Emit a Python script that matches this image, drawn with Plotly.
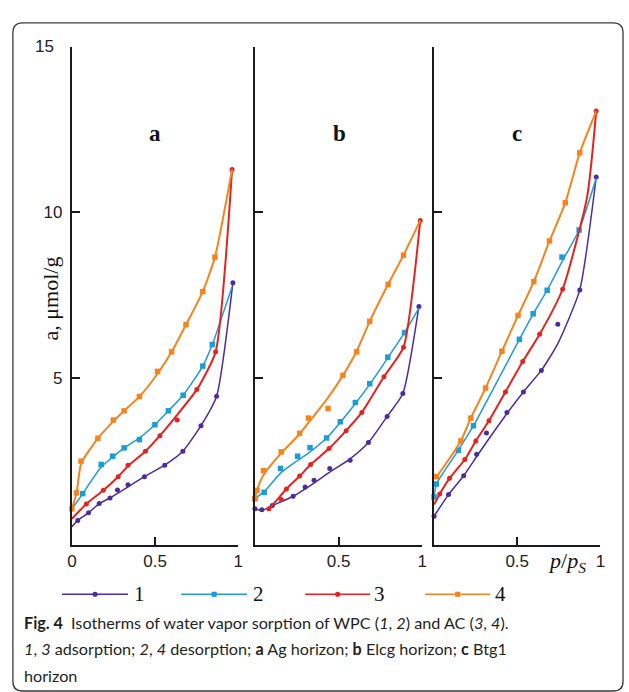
import plotly.graph_objects as go

W, H = 629, 692

# ---------------- data ----------------
# series 1: WPC adsorption, 2: WPC desorption, 3: AC adsorption, 4: AC desorption
SERIES_LABELS = ["1", "2", "3", "4"]
PANEL_LABELS = ["a", "b", "c"]
X_TICKS_A = [0, 0.5, 1]
X_TICKTEXT_A = ["0", "0.5", "1"]
X_TICKS_BC = [0.5, 1]
X_TICKTEXT_BC = ["0.5", "1"]
Y_TICKS = [5, 10, 15]
Y_TICKTEXT = ["5", "10", "15\u2002"]

# Panel a  (M = measured points, C = fitted curve)
A1_MX = [0.035, 0.10, 0.164, 0.229, 0.274, 0.337, 0.436, 0.558, 0.667, 0.776, 0.870, 0.968]
A1_MY = [0.69, 0.92, 1.20, 1.37, 1.61, 1.77, 2.01, 2.36, 2.78, 3.55, 4.44, 7.87]
A1_CX = [0.0, 0.035, 0.10, 0.164, 0.229, 0.436, 0.558, 0.667, 0.776, 0.870, 0.968]
A1_CY = [0.50, 0.69, 0.92, 1.20, 1.37, 2.01, 2.36, 2.78, 3.55, 4.44, 7.87]

A2_MX = [0.065, 0.176, 0.245, 0.314, 0.406, 0.499, 0.58, 0.669, 0.787, 0.844]
A2_MY = [1.50, 2.38, 2.63, 2.88, 3.13, 3.58, 4.00, 4.47, 5.35, 6.00]
A2_CX = [0.01, 0.065, 0.176, 0.245, 0.314, 0.406, 0.499, 0.58, 0.669, 0.787, 0.844, 0.963]
A2_CY = [1.10, 1.50, 2.30, 2.60, 2.88, 3.18, 3.58, 4.00, 4.47, 5.35, 6.00, 7.75]

A3_MX = [0.087, 0.189, 0.278, 0.337, 0.442, 0.529, 0.633, 0.751, 0.864, 0.963]
A3_MY = [1.19, 1.60, 2.01, 2.36, 2.78, 3.25, 3.72, 4.64, 5.78, 11.29]
A3_CX = [0.0, 0.087, 0.189, 0.278, 0.337, 0.442, 0.529, 0.633, 0.751, 0.864, 0.963]
A3_CY = [0.74, 1.19, 1.60, 2.01, 2.33, 2.78, 3.25, 3.88, 4.64, 5.78, 11.29]

A4_MX = [0.0, 0.028, 0.055, 0.156, 0.249, 0.314, 0.406, 0.515, 0.60, 0.686, 0.787, 0.86]
A4_MY = [1.04, 1.52, 2.48, 3.17, 3.72, 4.00, 4.43, 5.19, 5.78, 6.60, 7.60, 8.64]
A4_CX = [0.0, 0.028, 0.055, 0.156, 0.249, 0.314, 0.406, 0.515, 0.60, 0.686, 0.787, 0.86, 0.963]
A4_CY = [1.04, 1.52, 2.40, 3.17, 3.68, 4.00, 4.43, 5.12, 5.78, 6.60, 7.60, 8.64, 11.29]

# Panel b
B1_MX = [0.0, 0.041, 0.104, 0.228, 0.30, 0.353, 0.447, 0.569, 0.678, 0.79, 0.884, 0.98]
B1_MY = [1.04, 1.01, 1.14, 1.42, 1.70, 1.90, 2.26, 2.51, 3.04, 3.83, 4.52, 7.15]
B1_CX = [0.0, 0.041, 0.104, 0.228, 0.353, 0.447, 0.569, 0.678, 0.79, 0.884, 0.98]
B1_CY = [1.04, 0.99, 1.14, 1.42, 1.82, 2.15, 2.55, 3.04, 3.83, 4.52, 7.15]

B2_MX = [0.0, 0.055, 0.153, 0.255, 0.329, 0.428, 0.51, 0.6, 0.686, 0.794, 0.894]
B2_MY = [1.35, 1.54, 2.26, 2.63, 2.89, 3.18, 3.67, 4.25, 4.82, 5.62, 6.36]
B2_CX = [0.0, 0.055, 0.153, 0.255, 0.329, 0.428, 0.51, 0.6, 0.686, 0.794, 0.894, 0.98]
B2_CY = [1.35, 1.56, 2.12, 2.50, 2.76, 3.18, 3.65, 4.22, 4.80, 5.60, 6.36, 7.10]

B3_MX = [0.084, 0.157, 0.188, 0.267, 0.333, 0.443, 0.545, 0.639, 0.771, 0.888, 0.988]
B3_MY = [1.04, 1.32, 1.64, 2.03, 2.38, 2.86, 3.40, 3.95, 5.03, 5.92, 9.75]
B3_CX = [0.07, 0.084, 0.188, 0.267, 0.333, 0.443, 0.545, 0.639, 0.771, 0.888, 0.988]
B3_CY = [1.00, 1.04, 1.64, 2.03, 2.38, 2.86, 3.40, 3.95, 5.03, 5.92, 9.75]

B4_MX = [0.0, 0.012, 0.051, 0.157, 0.267, 0.32, 0.437, 0.526, 0.608, 0.686, 0.796, 0.888]
B4_MY = [1.35, 1.60, 2.19, 2.76, 3.32, 3.78, 4.07, 5.07, 5.78, 6.70, 7.82, 8.70]
B4_CX = [0.0, 0.012, 0.051, 0.157, 0.267, 0.32, 0.437, 0.526, 0.608, 0.686, 0.796, 0.888, 0.988]
B4_CY = [1.35, 1.60, 2.06, 2.72, 3.30, 3.64, 4.40, 5.07, 5.80, 6.70, 7.82, 8.70, 9.75]

# Panel c
C1_MX = [0.0, 0.087, 0.178, 0.256, 0.315, 0.438, 0.537, 0.645, 0.744, 0.876, 0.975]
C1_MY = [0.82, 1.47, 2.04, 2.69, 3.33, 3.95, 4.57, 5.22, 6.61, 7.65, 11.06]
C1_CX = [0.0, 0.087, 0.178, 0.256, 0.315, 0.438, 0.537, 0.645, 0.744, 0.876, 0.975]
C1_CY = [0.82, 1.47, 2.04, 2.62, 3.05, 3.92, 4.57, 5.22, 6.03, 7.65, 11.06]

C2_MX = [0.0, 0.014, 0.146, 0.237, 0.513, 0.596, 0.68, 0.769, 0.872]
C2_MY = [1.40, 1.79, 2.81, 3.55, 6.16, 6.93, 7.64, 8.64, 9.46]
C2_CX = [0.0, 0.014, 0.146, 0.237, 0.513, 0.596, 0.68, 0.769, 0.872, 0.975]
C2_CY = [1.40, 1.79, 2.81, 3.55, 6.16, 6.93, 7.64, 8.50, 9.46, 11.02]

C3_MX = [0.034, 0.093, 0.185, 0.251, 0.33, 0.429, 0.533, 0.635, 0.773, 0.975]
C3_MY = [1.49, 1.96, 2.53, 3.09, 3.70, 4.57, 5.49, 6.31, 7.67, 13.05]
C3_CX = [0.0, 0.034, 0.093, 0.185, 0.251, 0.33, 0.429, 0.533, 0.635, 0.773, 0.92, 0.975]
C3_CY = [1.17, 1.49, 1.96, 2.53, 3.09, 3.70, 4.57, 5.49, 6.31, 7.67, 10.45, 13.05]

C4_MX = [0.014, 0.161, 0.221, 0.31, 0.408, 0.505, 0.6, 0.694, 0.789, 0.876]
C4_MY = [2.01, 3.09, 3.78, 4.69, 5.80, 6.88, 7.90, 9.13, 10.28, 11.79]
C4_CX = [0.0, 0.014, 0.161, 0.221, 0.31, 0.408, 0.505, 0.6, 0.694, 0.789, 0.876, 0.975]
C4_CY = [1.96, 2.01, 3.09, 3.78, 4.69, 5.80, 6.88, 7.90, 9.13, 10.28, 11.79, 13.05]

PANELS = [
    [(A1_CX, A1_CY, A1_MX, A1_MY), (A2_CX, A2_CY, A2_MX, A2_MY),
     (A3_CX, A3_CY, A3_MX, A3_MY), (A4_CX, A4_CY, A4_MX, A4_MY)],
    [(B1_CX, B1_CY, B1_MX, B1_MY), (B2_CX, B2_CY, B2_MX, B2_MY),
     (B3_CX, B3_CY, B3_MX, B3_MY), (B4_CX, B4_CY, B4_MX, B4_MY)],
    [(C1_CX, C1_CY, C1_MX, C1_MY), (C2_CX, C2_CY, C2_MX, C2_MY),
     (C3_CX, C3_CY, C3_MX, C3_MY), (C4_CX, C4_CY, C4_MX, C4_MY)],
]

# ---------------- styling ----------------
COLORS = ["#4b2c9f", "#1c9bd7", "#e42320", "#f5841f"]
SYMBOLS = ["circle", "square", "circle", "square"]
MSIZE = [5, 5.5, 5, 5.5]
LWIDTH = [1.5, 1.5, 2.0, 2.0]
AXC = "#1a1a1a"
SANS = "Liberation Sans, Arial, sans-serif"
SERIF = "Liberation Serif, Times New Roman, serif"
CAP = "Lato, Open Sans, sans-serif"


def px(x):
    return x / W


def py(y):
    return 1 - y / H


X_DOMAINS = [(68, 237), (254, 424), (436, 605)]
Y_TOP, Y_BOT = 38, 543
LETTER_X = [152, 340, 520]

fig = go.Figure()

for p, series in enumerate(PANELS):
    xa = "x" if p == 0 else f"x{p + 1}"
    ya = "y" if p == 0 else f"y{p + 1}"
    for k, (cx, cy, mx, my) in enumerate(series):
        fig.add_trace(go.Scatter(
            x=cx, y=cy, mode="lines", xaxis=xa, yaxis=ya,
            line=dict(color=COLORS[k], width=LWIDTH[k], shape="spline", smoothing=0.55),
            hoverinfo="skip", showlegend=False))
        fig.add_trace(go.Scatter(
            x=mx, y=my, mode="markers", xaxis=xa, yaxis=ya, cliponaxis=False,
            marker=dict(color=COLORS[k], symbol=SYMBOLS[k], size=MSIZE[k], line=dict(width=0)),
            hoverinfo="skip", showlegend=False))

layout = dict(
    width=W, height=H, margin=dict(l=0, r=0, t=0, b=0),
    paper_bgcolor="white", plot_bgcolor="rgba(0,0,0,0)", showlegend=False,
)

for p, (x0, x1) in enumerate(X_DOMAINS):
    sx = "xaxis" if p == 0 else f"xaxis{p + 1}"
    sy = "yaxis" if p == 0 else f"yaxis{p + 1}"
    xa = "x" if p == 0 else f"x{p + 1}"
    ya = "y" if p == 0 else f"y{p + 1}"
    layout[sx] = dict(
        domain=[px(x0), px(x1)], range=[0, 1], anchor=ya,
        showline=True, linecolor=AXC, linewidth=2, mirror=False,
        ticks="inside", ticklen=8, tickwidth=2, tickcolor=AXC,
        tickvals=X_TICKS_A if p == 0 else X_TICKS_BC,
        ticktext=X_TICKTEXT_A if p == 0 else X_TICKTEXT_BC,
        tickfont=dict(family=SANS, size=17, color="#222"),
        showgrid=False, zeroline=False, fixedrange=True,
    )
    layout[sy] = dict(
        domain=[py(Y_BOT), py(Y_TOP)], range=[-0.05, 15], anchor=xa,
        showline=True, linecolor=AXC, linewidth=2, mirror=False,
        ticks="inside", ticklen=8, tickwidth=2, tickcolor=AXC,
        tickvals=Y_TICKS, ticktext=Y_TICKTEXT,
        showticklabels=(p == 0), ticklabelstandoff=4,
        tickfont=dict(family=SANS, size=17, color="#222"),
        showgrid=False, zeroline=False, fixedrange=True,
    )

annotations = []
for p, lab in enumerate(PANEL_LABELS):
    annotations.append(dict(
        x=px(LETTER_X[p]), y=py(126), xref="paper", yref="paper", text=f"<b>{lab}</b>",
        showarrow=False, font=dict(family=SERIF, size=23, color="#111"),
        xanchor="center", yanchor="middle"))

# y-axis title
annotations.append(dict(x=px(46), y=py(293), xref="paper", yref="paper", text="a, μmol/g",
                        textangle=-90, showarrow=False,
                        font=dict(family=SERIF, size=22, color="#111"),
                        xanchor="center", yanchor="middle"))
# x-axis title
annotations.append(dict(x=px(571), y=py(560), xref="paper", yref="paper",
                        text="<i>p</i>/<i>p</i><sub><i>S</i></sub>",
                        showarrow=False, font=dict(family=SERIF, size=22, color="#111"),
                        xanchor="center", yanchor="middle"))

shapes = []
# legend
LEG_Y = 593
LEG_X0 = [58, 179, 305, 427]
LEG_X1 = [125, 246, 371, 493]
LEG_TX = [129, 250, 373, 496]
for k in range(4):
    shapes.append(dict(type="line", xref="paper", yref="paper",
                       x0=px(LEG_X0[k]), x1=px(LEG_X1[k]), y0=py(LEG_Y), y1=py(LEG_Y),
                       line=dict(color=COLORS[k], width=1.6)))
    mxc = (LEG_X0[k] + LEG_X1[k]) / 2
    r = 2.6
    shapes.append(dict(type="circle" if SYMBOLS[k] == "circle" else "rect",
                       xref="paper", yref="paper",
                       x0=px(mxc - r), x1=px(mxc + r), y0=py(LEG_Y + r), y1=py(LEG_Y - r),
                       fillcolor=COLORS[k], line=dict(width=0)))
    annotations.append(dict(x=px(LEG_TX[k]), y=py(LEG_Y), xref="paper", yref="paper",
                            text=SERIES_LABELS[k], showarrow=False,
                            font=dict(family=SERIF, size=21, color="#111"),
                            xanchor="left", yanchor="middle"))

# caption
CAP_LINES = [
    "<b>Fig. 4</b>\u2002Isotherms of water vapor sorption of WPC (<i>1</i>, <i>2</i>) and AC (<i>3</i>, <i>4</i>).",
    "<i>1</i>, <i>3</i> adsorption; <i>2</i>, <i>4</i> desorption; <b>a</b> Ag horizon; <b>b</b> Elcg horizon; <b>c</b> Btg1",
    "horizon",
]
CAP_Y = [622, 648, 675]
for t, yy in zip(CAP_LINES, CAP_Y):
    annotations.append(dict(x=px(17), y=py(yy), xref="paper", yref="paper", text=t,
                            showarrow=False, font=dict(family=CAP, size=16.2, color="#231f20"),
                            xanchor="left", yanchor="middle"))

# rounded frame
fx0, fx1, fy0, fy1, rr = 8, 628, 14, 691, 10
path = (f"M {px(fx0)},{py(fy1 - rr)} L {px(fx0)},{py(fy0 + rr)} "
        f"Q {px(fx0)},{py(fy0)} {px(fx0 + rr)},{py(fy0)} "
        f"L {px(fx1 - rr)},{py(fy0)} Q {px(fx1)},{py(fy0)} {px(fx1)},{py(fy0 + rr)} "
        f"L {px(fx1)},{py(fy1 - rr)} Q {px(fx1)},{py(fy1)} {px(fx1 - rr)},{py(fy1)} "
        f"L {px(fx0 + rr)},{py(fy1)} Q {px(fx0)},{py(fy1)} {px(fx0)},{py(fy1 - rr)} Z")
shapes.append(dict(type="path", xref="paper", yref="paper", path=path,
                   line=dict(color="#3a3a3a", width=1.3)))

layout["annotations"] = annotations
layout["shapes"] = shapes
fig.update_layout(**layout)

POST = (
    "document.documentElement.style.margin='0';"
    "document.documentElement.style.padding='0';"
    "document.body.style.margin='0';"
    "document.body.style.padding='0';"
    "document.body.style.overflow='hidden';"
    "var g=document.getElementById('{plot_id}');"
    "g.style.position='absolute';g.style.left='0px';g.style.top='0px';"
)
fig.write_html("out.html", post_script=POST, config={"displayModeBar": False})
